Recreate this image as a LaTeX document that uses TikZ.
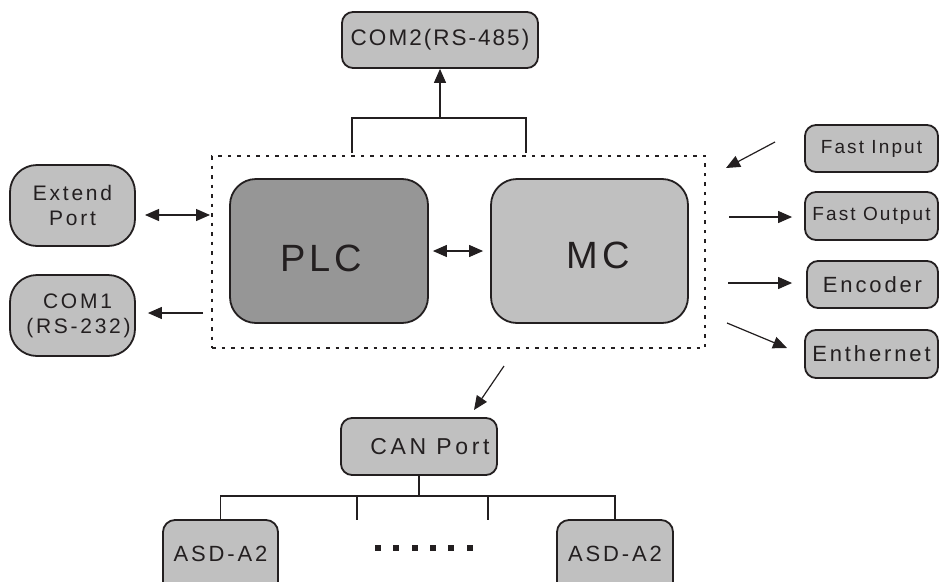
\documentclass[tikz,border=0pt]{standalone}
\usepackage{fontspec}
\setmainfont{Liberation Sans}
\usetikzlibrary{arrows.meta}
\definecolor{lg}{HTML}{C0C0C0}
\definecolor{dg}{HTML}{969696}
\definecolor{ink}{HTML}{231F20}
\begin{document}
\begin{tikzpicture}[x=1pt,y=-1pt,
  box/.style={draw=ink, line width=1.8pt, fill=lg, rounded corners=11pt, inner sep=0pt, text=ink, align=center},
  tip/.tip={Triangle[length=14pt,width=12pt]},
  arr/.style={draw=ink, line width=1.2pt, -tip},
  darr/.style={draw=ink, line width=1.2pt, tip-tip},
  wire/.style={draw=ink, line width=1.5pt},
  stub/.style={draw=ink, line width=2.4pt},
  fA/.style={font=\fontsize{22.5}{26}\selectfont\addfontfeature{LetterSpace=9}},
  fB/.style={font=\fontsize{21}{25}\selectfont\addfontfeature{LetterSpace=13}},
  fC/.style={font=\fontsize{19}{22}\selectfont\addfontfeature{LetterSpace=11}},
  fD/.style={font=\fontsize{22}{25}\selectfont\addfontfeature{LetterSpace=13}},
  fE/.style={font=\fontsize{38}{42}\selectfont\addfontfeature{LetterSpace=10}}]
\useasboundingbox (0,0) rectangle (939,581);

% system frame
\node[draw=ink, line width=2.8pt, dash pattern=on 3.5pt off 6pt, minimum width=493pt, minimum height=192pt, inner sep=0pt] (sys) at (458.5,252) {};

% main blocks
\node[box, fill=dg, rounded corners=26pt, minimum width=198pt, minimum height=144pt, fE, text height=41pt, text depth=0pt] (plc) at (329,251) {PLC\hspace*{16pt}};
\node[box, rounded corners=26pt, minimum width=197pt, minimum height=144pt, fE, text height=35pt, text depth=0pt] (mc) at (589.5,251) {\hspace*{17pt}MC};

% top
\node[box, minimum width=196pt, minimum height=56pt, fA] (com2) at (440,40) {COM2(RS-485)};
\coordinate (bl) at (352,153);
\coordinate (br) at (526,153);
\coordinate (bm) at (440,118);
\draw[wire] (bl) |- (br |- bm) -- (br);
\draw[arr] (bm) -- (com2.south);

% left
\node[box, rounded corners=27pt, minimum width=125pt, minimum height=81pt, fB] (ext) at (72.5,205.5) {Extend\\Port};
\node[box, rounded corners=27pt, minimum width=125pt, minimum height=81pt, fB] (com1) at (72.5,315.5) {\hspace*{10pt}COM1\\\hspace*{12pt}(RS-232)};
\coordinate (e1) at (145,215);
\coordinate (e2) at (210,215);
\draw[darr] (e1) -- (e2);
\coordinate (c1) at (203,313);
\draw[arr, shorten >=12pt] (c1) -- (com1.east |- c1);
\draw[darr, shorten <=4pt, shorten >=7pt] (plc.east) -- (mc.west);

% right
\node[box, minimum width=133pt, minimum height=47pt, fC] (fin) at (871.5,148.5) {Fast Input};
\node[box, minimum width=133pt, minimum height=48pt, fC] (fout) at (871.5,216) {Fast Output};
\node[box, minimum width=131pt, minimum height=47pt, fD] (enc) at (872.5,284.5) {Encoder};
\node[box, minimum width=133pt, minimum height=48pt, fD] (eth) at (871.5,354) {Enthernet};
\coordinate (fi1) at (775,142);
\coordinate (fi2) at (726,168);
\draw[arr] (fi1) -- (fi2);
\coordinate (fo1) at (729,217);
\draw[arr, shorten >=12pt] (fo1) -- (fout.west |- fo1);
\coordinate (en1) at (728,283);
\draw[arr, shorten >=14pt] (en1) -- (enc.west |- en1);
\coordinate (et1) at (727,323);
\coordinate (et2) at (787,348);
\draw[arr] (et1) -- (et2);

% bottom
\node[box, minimum width=156pt, minimum height=57pt, font=\fontsize{23}{26}\selectfont\addfontfeature{LetterSpace=16}] (can) at (419,446.5) {\hspace*{22pt}CAN Port};
\coordinate (ca1) at (504,366);
\coordinate (ca2) at (474,410);
\draw[arr] (ca1) -- (ca2);

\begin{scope}
\clip (0,0) rectangle (939,581);
\node[box, rounded corners=12pt, minimum width=115pt, minimum height=80pt, fD, text height=16pt, text depth=14pt] (asd1) at (220.5,560) {ASD-A2};
\node[box, rounded corners=12pt, minimum width=116pt, minimum height=80pt, fD, text height=16pt, text depth=14pt] (asd2) at (615,560) {ASD-A2};
\end{scope}
\coordinate (bus) at (419,496);
\draw[stub] (can.south) -- (bus);
\draw[wire] (asd1.north) -- (asd1.north |- bus) -- (asd2.north |- bus) -- (asd2.north);
\coordinate (s1) at (357,496);
\coordinate (s2) at (488,496);
\draw[stub] (s1) -- ++(0,24);
\draw[stub] (s2) -- ++(0,24);
\foreach \x in {378,396,415,433,451,470}
  \fill[ink] (\x-3,545) rectangle +(6,6);
\end{tikzpicture}
\end{document}
